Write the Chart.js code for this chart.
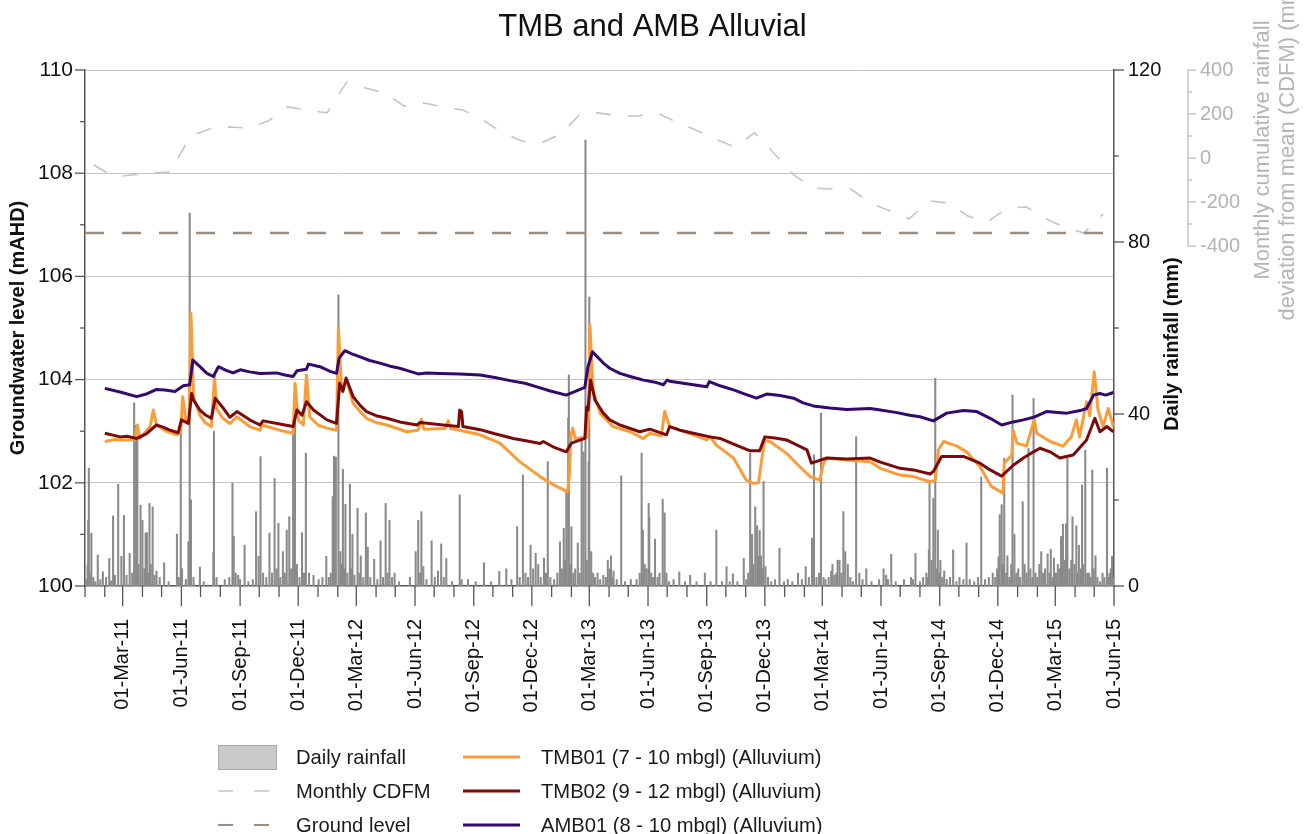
<!DOCTYPE html>
<html>
<head>
<meta charset="utf-8">
<title>TMB and AMB Alluvial</title>
<script src="https://cdn.jsdelivr.net/npm/chart.js@4.4.1/dist/chart.umd.min.js"></script>
<style>
  html, body { margin: 0; padding: 0; background: #fff; }
  #wrap { position: relative; width: 1305px; height: 834px; overflow: hidden;
          font-family: 'Liberation Sans', Arial, sans-serif; }
  #c { position: absolute; left: 0; top: 0; }
  .lg-text { position: absolute; font-size: 20.2px; color: #1a1a1a; line-height: 24px; white-space: nowrap; }
  .lg-sw { position: absolute; }
</style>
</head>
<body>
<div id="wrap">
  <canvas id="c" width="1305" height="834"></canvas>
  <div id="legend"></div>
</div>
<script>
// ---------------------------------------------------------------
// Data (x values are days since 01-Jan-2011)
// ---------------------------------------------------------------
const xTickLabels = ['01-Mar-11','01-Jun-11','01-Sep-11','01-Dec-11','01-Mar-12','01-Jun-12',
  '01-Sep-12','01-Dec-12','01-Mar-13','01-Jun-13','01-Sep-13','01-Dec-13','01-Mar-14',
  '01-Jun-14','01-Sep-14','01-Dec-14','01-Mar-15','01-Jun-15'];

const groundLevel = 106.84; // mAHD

// TMB01 (7 - 10 mbgl) [day, mAHD]
const tmb01 = [[31,102.80],[47,102.84],[65,102.83],[78,102.84],[82,103.12],[86,102.86],[102,103.09],[107,103.41],
  [112,103.12],[127,103.00],[144,102.93],[150,102.99],[153,103.67],[158,103.22],[163,103.14],[166,105.29],[170,103.67],
  [180,103.31],[188,103.17],[198,103.09],[203,104.06],[206,103.44],[216,103.25],[227,103.15],[238,103.28],[258,103.09],
  [274,103.02],[277,103.12],[305,103.02],[326,102.96],[329,103.93],[334,103.22],[342,103.12],[347,104.09],[352,103.28],
  [365,103.12],[379,103.06],[394,103.02],[397,105.00],[402,103.80],[410,103.99],[420,103.54],[431,103.38],[441,103.25],
  [456,103.17],[473,103.12],[504,102.99],[522,103.02],[527,103.23],[531,103.04],[564,103.05],[569,103.20],[573,103.05],
  [587,103.02],[619,102.93],[650,102.77],[681,102.41],[713,102.12],[734,101.96],[756,101.83],[759,102.18],[761,102.89],
  [764,103.06],[768,102.86],[786,102.88],[789,103.30],[791,105.06],[796,103.80],[807,103.35],[827,103.09],[854,102.99],
  [874,102.86],[885,102.96],[903,102.91],[908,103.38],[916,103.09],[953,102.93],[974,102.83],[979,102.90],[989,102.73],
  [1016,102.48],[1036,102.05],[1047,101.99],[1055,102.00],[1060,102.44],[1065,102.83],[1073,102.80],[1099,102.57],
  [1120,102.31],[1136,102.12],[1151,102.05],[1157,102.38],[1162,102.48],[1193,102.44],[1230,102.41],[1246,102.28],
  [1277,102.15],[1298,102.12],[1324,102.02],[1332,102.05],[1337,102.64],[1345,102.80],[1366,102.71],[1381,102.60],
  [1402,102.31],[1420,101.93],[1438,101.80],[1440,102.38],[1452,102.54],[1454,103.02],[1460,102.77],[1475,102.71],
  [1487,103.22],[1491,102.96],[1512,102.80],[1532,102.71],[1545,102.89],[1553,103.22],[1558,102.89],[1569,103.57],
  [1574,103.30],[1581,104.15],[1587,103.41],[1595,103.09],[1603,103.44],[1611,103.09]];

// TMB02 (9 - 12 mbgl) [day, mAHD]
const tmb02 = [[31,102.96],[55,102.89],[67,102.90],[81,102.86],[96,102.95],[112,103.12],[122,103.08],[133,103.02],
  [146,102.97],[151,103.22],[162,103.15],[167,103.73],[170,103.60],[180,103.41],[188,103.32],[198,103.25],[204,103.64],
  [217,103.44],[227,103.27],[238,103.38],[258,103.22],[274,103.12],[279,103.20],[305,103.14],[326,103.09],[332,103.41],
  [340,103.31],[347,103.57],[358,103.41],[379,103.22],[394,103.15],[399,103.93],[404,103.77],[409,104.03],[420,103.67],
  [431,103.50],[441,103.38],[456,103.30],[473,103.25],[493,103.18],[520,103.12],[525,103.17],[561,103.12],[585,103.09],
  [587,103.41],[590,103.38],[592,103.09],[619,103.03],[642,102.95],[671,102.86],[697,102.80],[713,102.76],[718,102.80],
  [736,102.68],[754,102.60],[762,102.77],[783,102.86],[786,103.47],[788,103.41],[792,103.99],[799,103.60],[812,103.35],
  [822,103.22],[838,103.12],[869,102.99],[885,103.04],[911,102.93],[916,103.09],[932,103.02],[953,102.96],[979,102.89],
  [995,102.86],[1018,102.74],[1042,102.62],[1057,102.62],[1065,102.89],[1081,102.87],[1099,102.83],[1131,102.64],
  [1138,102.38],[1162,102.48],[1193,102.46],[1230,102.48],[1246,102.40],[1277,102.28],[1298,102.25],[1324,102.17],
  [1329,102.22],[1342,102.51],[1376,102.51],[1402,102.38],[1418,102.25],[1436,102.13],[1454,102.34],[1470,102.48],
  [1486,102.60],[1496,102.67],[1512,102.60],[1527,102.48],[1548,102.54],[1569,102.83],[1582,103.25],[1590,102.99],
  [1601,103.09],[1611,102.99]];

// AMB01 (8 - 10 mbgl) [day, mAHD]
const amb01 = [[31,103.83],[55,103.76],[81,103.67],[96,103.72],[112,103.81],[125,103.80],[141,103.77],[154,103.88],
  [164,103.90],[169,104.38],[180,104.25],[191,104.12],[201,104.06],[209,104.25],[221,104.18],[232,104.13],[243,104.19],
  [258,104.15],[274,104.12],[300,104.13],[313,104.09],[326,104.06],[332,104.17],[347,104.20],[350,104.30],[368,104.25],
  [384,104.16],[394,104.12],[398,104.41],[407,104.56],[418,104.50],[431,104.44],[446,104.37],[462,104.32],[478,104.26],
  [493,104.22],[509,104.16],[522,104.11],[535,104.13],[556,104.12],[587,104.11],[619,104.09],[642,104.04],[666,103.98],
  [689,103.93],[708,103.86],[729,103.78],[754,103.70],[768,103.77],[783,103.85],[788,104.25],[795,104.54],[802,104.45],
  [812,104.32],[822,104.22],[838,104.12],[854,104.06],[875,103.99],[893,103.95],[906,103.90],[912,103.99],[916,103.97],
  [932,103.94],[953,103.90],[974,103.86],[978,103.96],[995,103.88],[1016,103.80],[1034,103.72],[1052,103.64],[1068,103.72],
  [1089,103.69],[1110,103.64],[1125,103.55],[1141,103.49],[1167,103.45],[1193,103.42],[1230,103.44],[1246,103.41],
  [1272,103.36],[1292,103.31],[1308,103.28],[1329,103.20],[1350,103.35],[1376,103.40],[1397,103.38],[1418,103.25],
  [1436,103.12],[1454,103.18],[1470,103.22],[1486,103.27],[1506,103.38],[1538,103.35],[1559,103.40],[1569,103.44],
  [1580,103.70],[1590,103.73],[1599,103.70],[1611,103.75]];

// Monthly cumulative deviation from mean (mm), Jan-2011 .. May-2015, plotted mid-month
const cdfmStart = [2011, 0];
const cdfmValues = [-32,-86,-77,-68,-64,100,132,141,136,168,232,218,
  205,345,318,295,236,250,232,218,173,118,77,68,
  109,200,205,191,191,205,164,127,86,50,114,23,
  -77,-136,-141,-141,-205,-241,-277,-195,-205,-264,-291,-227,
  -223,-277,-314,-341,-255];

// Daily rainfall [day, mm]
const dailyRain = [[2,1.5],[4,4.9],[5,15.3],[6,27.4],[8,3],[10,12.3],[13,2],[16,1],[20,7.2],[24,1.5],[28,3.3],[33,2],
  [38,6.4],[41,1.2],[44,16.3],[47,2.5],[52,23.7],[57,6.9],[61,16.4],[65,2.5],[70,7.6],[74,3],[77,42.6],[80,37.4],[82,34],
  [84,5],[87,18.8],[90,15.3],[93,4],[95,12.3],[97,12.4],[99,3],[101,19.2],[103,5],[106,18.4],[109,2.5],[112,3.5],[117,2],
  [124,5.4],[131,1],[144,12.1],[147,2],[150,36.3],[152,4],[158,1.5],[162,10.3],[164,86.7],[166,20],[170,2],[180,4.4],
  [186,1],[201,7.8],[202,36],[206,2],[219,1.5],[226,2],[231,23.9],[233,11.5],[236,3],[240,2.5],[243,1.5],[250,9.5],
  [256,1],[263,1.5],[268,17.3],[272,6.9],[275,30.1],[279,3],[284,2],[289,12.3],[293,3],[297,25.0],[300,4],[303,14.6],
  [306,2],[310,8],[313,3],[316,13.0],[320,16.1],[323,4],[326,36.3],[329,46.7],[332,5],[336,2],[340,12.4],[343,3],
  [346,30.9],[351,3],[358,2.5],[366,1.5],[372,2],[378,6.9],[382,2],[385,3],[388,20.8],[390,30.2],[393,30],[397,67.7],
  [400,8],[402,5],[404,27.1],[406,4],[408,19],[411,3],[415,23.7],[417,4],[419,12],[422,2.5],[427,18.1],[430,3],[432,7],
  [436,2],[440,17],[443,9],[447,2],[453,6.2],[458,1.5],[463,10.5],[467,2],[471,19.2],[474,3],[477,15.3],[481,2],[485,3],
  [492,1],[509,2],[518,8],[522,15.3],[525,3],[527,17.3],[530,4.5],[535,1.5],[543,10.5],[548,2],[553,3.5],[558,9.8],
  [562,2],[566,6.4],[575,1],[587,21.2],[590,1.5],[600,1.5],[612,1],[625,5.4],[636,1],[649,3.4],[660,4.0],[668,1.5],
  [677,13.8],[681,2],[686,25.8],[690,3],[694,2],[698,9.5],[702,4],[706,7.6],[710,5],[714,2],[719,6.5],[722,3],[725,28.9],
  [729,2],[735,1.5],[740,3],[744,10.3],[747,4],[750,13.4],[752,6],[754,22.3],[757,39.0],[758,49.1],[760,5],[762,13.8],
  [765,3],[768,4],[772,10],[775,3],[778,34.7],[781,31.2],[784,103.7],[786,6],[789,28.9],[790,67.2],[793,8],[796,3],
  [799,2],[803,3],[807,1.5],[812,2.5],[816,2],[819,6],[822,4],[824,7],[826,2],[828,3.5],[833,1.5],[840,25.6],[846,1],
  [855,1.5],[864,1.5],[869,3],[872,30.9],[874,13],[877,5],[880,4],[883,19.2],[884,16],[887,3],[890,2],[893,10.9],[897,2],
  [900,3],[905,20.2],[908,17],[911,3],[915,1],[922,1.5],[931,3.3],[940,1],[948,2.5],[958,1],[971,3],[980,1],[989,13],
  [998,1],[1005,4.5],[1010,1],[1015,2.8],[1022,1],[1032,6.4],[1036,1.5],[1039,3],[1042,30.9],[1045,12],[1047,5],
  [1050,18.4],[1053,14],[1055,7],[1057,12.9],[1059,7],[1061,4],[1063,24.3],[1066,4.5],[1070,2],[1075,1],[1081,1.5],
  [1088,8.8],[1095,1],[1101,1.5],[1108,1],[1117,3],[1123,1.5],[1129,4.5],[1134,2],[1139,11.1],[1142,30.5],[1146,2],
  [1150,3],[1153,40.2],[1157,2],[1160,1.5],[1165,2],[1169,3.5],[1171,5],[1174,2.5],[1177,3],[1179,6],[1182,6],[1185,3],
  [1188,17.3],[1191,8],[1195,5],[1199,2],[1203,1],[1208,34.7],[1213,3],[1218,1.5],[1224,4],[1232,1],[1244,1.5],[1251,4],
  [1255,2.5],[1258,1.5],[1263,7.4],[1270,1],[1283,1.5],[1294,2],[1297,1.5],[1301,7.6],[1308,1],[1313,2],[1318,3],
  [1320,2],[1322,8.4],[1323,23.9],[1326,6],[1329,20.4],[1332,48.3],[1334,4],[1336,13],[1338,3],[1340,6],[1343,2],
  [1346,3.5],[1350,1.5],[1355,2],[1360,8.4],[1365,1],[1370,2],[1376,1.5],[1381,10],[1386,1.5],[1393,1],[1399,2],
  [1404,25.4],[1410,1.5],[1416,2],[1422,3],[1426,2],[1429,4],[1431,6.8],[1433,16.6],[1436,18.9],[1438,5],[1440,29.7],
  [1443,3],[1445,7],[1448,2],[1451,5],[1453,44.4],[1456,12],[1459,3],[1462,4],[1465,2],[1469,19.6],[1472,5],[1475,3],
  [1478,32],[1481,4],[1484,2],[1486,43.6],[1489,3],[1492,2],[1495,5],[1498,8],[1501,3],[1504,4],[1508,7.5],[1511,3],
  [1513,8.5],[1516,2],[1518,6.5],[1521,3],[1524,5],[1527,4],[1529,11.5],[1532,14.4],[1535,6],[1537,14.5],[1539,29.7],
  [1542,4],[1545,6],[1547,16.1],[1550,5],[1553,14],[1555,3],[1557,9.5],[1560,4],[1562,23.5],[1564,5],[1567,31.6],
  [1570,3],[1573,3],[1575,2],[1578,27],[1580,4],[1583,7],[1586,2],[1590,1],[1594,3],[1597,2],[1601,27.4],[1603,2],
  [1605,3],[1607,4],[1609,6.9],[1611,2]];

// ---------------------------------------------------------------
// Date helpers
// ---------------------------------------------------------------
const T0 = Date.UTC(2011, 0, 1);
const MS_DAY = 86400000;
const MONTHS = ['Jan','Feb','Mar','Apr','May','Jun','Jul','Aug','Sep','Oct','Nov','Dec'];
const dayOfLabel = (s) => {
  const [d, m, y] = s.split('-');
  return Math.round((Date.UTC(2000 + Number(y), MONTHS.indexOf(m), Number(d)) - T0) / MS_DAY);
};
const X_MAX = dayOfLabel('01-Jun-15');
const labelByDay = new Map(xTickLabels.map(l => [dayOfLabel(l), l]));
const monthTicks = [];
for (let i = 0; ; i++) {
  const d = Math.round((Date.UTC(2011, i, 1) - T0) / MS_DAY);
  if (d > X_MAX) break;
  monthTicks.push(d);
}
const cdfmPoints = cdfmValues.map((v, i) => ({
  x: Math.round((Date.UTC(cdfmStart[0], cdfmStart[1] + i, 15) - T0) / MS_DAY), y: v
}));
const toXY = (arr) => arr.map(([x, y]) => ({ x, y }));

// The CDFM axis shows -400..400 in the upper part of the plot
const CDFM_TOP = 400, CDFM_BOTTOM = -400, CDFM_FRACTION = 176 / 516;
const CDFM_MIN = CDFM_TOP - (CDFM_TOP - CDFM_BOTTOM) / CDFM_FRACTION;
const cdfmTicks = [-400,-300,-200,-100,0,100,200,300,400];

const COLORS = {
  tmb01: '#FA9D38', tmb02: '#7D0A0A', amb01: '#34086D',
  ground: '#A08C78', cdfm: '#C4C4C4', rain: '#8A8A8A', axis: '#555555', cdfmAxis: '#BDBDBD'
};
const FONT = "'Liberation Sans', Arial, sans-serif";
Chart.defaults.font.family = FONT;
Chart.defaults.color = '#111';

// ---------------------------------------------------------------
// Tick marks (major/minor lengths), CDFM axis line and right-hand titles
// ---------------------------------------------------------------
const axisDecor = {
  id: 'axisDecor',
  afterDraw(chart) {
    const { ctx, chartArea: a, scales } = chart;
    const { x, y, yR, yC } = scales;
    const seg = (x1, y1, x2, y2) => { ctx.beginPath(); ctx.moveTo(x1, y1); ctx.lineTo(x2, y2); ctx.stroke(); };
    ctx.save();
    ctx.strokeStyle = COLORS.axis;
    ctx.lineWidth = 1.3;
    x.ticks.forEach(t => {
      const px = x.getPixelForValue(t.value);
      seg(px, a.bottom, px, a.bottom + (labelByDay.has(t.value) ? 20 : 11));
    });
    y.ticks.forEach(t => {
      const py = y.getPixelForValue(t.value);
      seg(a.left, py, a.left - (t.value % 2 === 0 ? 10 : 5), py);
    });
    yR.ticks.forEach(t => {
      const py = yR.getPixelForValue(t.value);
      seg(a.right, py, a.right + (t.value % 40 === 0 ? 10 : 5), py);
    });
    // CDFM axis
    ctx.strokeStyle = COLORS.cdfmAxis;
    ctx.lineWidth = 1.3;
    const cx = yC.left;
    seg(cx, yC.getPixelForValue(CDFM_TOP), cx, yC.getPixelForValue(CDFM_BOTTOM));
    yC.ticks.forEach(t => {
      const py = yC.getPixelForValue(t.value);
      seg(cx, py, cx + (t.value % 200 === 0 ? 8 : 4), py);
    });
    // Right-hand axis titles, reading bottom to top
    ctx.textAlign = 'center';
    ctx.textBaseline = 'middle';
    ctx.translate(yR.left + 58, (a.top + a.bottom) / 2 + 16);
    ctx.rotate(-Math.PI / 2);
    ctx.fillStyle = '#111';
    ctx.font = 'bold 20px ' + FONT;
    ctx.fillText('Daily rainfall (mm)', 0, 0);
    ctx.setTransform(1, 0, 0, 1, 0, 0);
    ctx.translate(yC.left + 75, 150);
    ctx.rotate(-Math.PI / 2);
    ctx.fillStyle = '#B5B5B5';
    ctx.font = '22px ' + FONT;
    ctx.fillText('Monthly cumulative rainfall', 0, 0);
    ctx.fillText('deviation from mean (CDFM) (mm)', 0, 25);
    ctx.restore();
  }
};

const ctx = document.getElementById('c').getContext('2d');
const chart = new Chart(ctx, {
  type: 'line',
  data: {
    datasets: [
      { label: 'AMB01 (8 - 10 mbgl) (Alluvium)', data: toXY(amb01), yAxisID: 'y', order: 1,
        borderColor: COLORS.amb01, borderWidth: 3, pointRadius: 0, borderJoinStyle: 'round', tension: 0 },
      { label: 'TMB02 (9 - 12 mbgl) (Alluvium)', data: toXY(tmb02), yAxisID: 'y', order: 2,
        borderColor: COLORS.tmb02, borderWidth: 3, pointRadius: 0, borderJoinStyle: 'round', tension: 0 },
      { label: 'TMB01 (7 - 10 mbgl) (Alluvium)', data: toXY(tmb01), yAxisID: 'y', order: 3,
        borderColor: COLORS.tmb01, borderWidth: 3, pointRadius: 0, borderJoinStyle: 'round', tension: 0 },
      { label: 'Ground level', data: [{ x: 0, y: groundLevel }, { x: X_MAX, y: groundLevel }], yAxisID: 'y', order: 5,
        borderColor: COLORS.ground, borderWidth: 2.5, borderDash: [19, 18], pointRadius: 0 },
      { label: 'Monthly CDFM', data: cdfmPoints, yAxisID: 'yC', order: 6,
        borderColor: COLORS.cdfm, borderWidth: 1.6, borderDash: [15, 17], pointRadius: 0, tension: 0 },
      { type: 'bar', label: 'Daily rainfall', data: toXY(dailyRain), yAxisID: 'yR', order: 10,
        backgroundColor: COLORS.rain, borderWidth: 0, barThickness: 1.4 }
    ]
  },
  options: {
    responsive: false,
    animation: false,
    events: [],
    layout: { padding: { left: 0, right: 0, top: 0, bottom: 113 } },
    plugins: {
      legend: { display: false },
      tooltip: { enabled: false },
      title: { display: true, text: 'TMB and AMB Alluvial', color: '#111',
               font: { size: 31, weight: 'normal' }, padding: { top: 9, bottom: 23.8 } }
    },
    scales: {
      x: {
        type: 'linear', min: 0, max: X_MAX, offset: false,
        grid: { display: false, drawTicks: false, offset: false },
        border: { display: true, color: COLORS.axis, width: 1.5 },
        afterBuildTicks: (s) => { s.ticks = monthTicks.map(v => ({ value: v })); },
        ticks: { autoSkip: false, minRotation: 90, maxRotation: 90, padding: 33,
                 font: { size: 20 }, color: '#111', callback: (v) => labelByDay.get(v) || '' },
        afterFit: (s) => { s.height = 135; }
      },
      y: {
        type: 'linear', position: 'left', min: 100, max: 110,
        ticks: { stepSize: 1, padding: 12, font: { size: 21 }, color: '#111',
                 callback: (v) => (v % 2 === 0 ? String(v) : '') },
        grid: { drawTicks: false, lineWidth: 1,
                color: (c) => (c.tick && c.tick.value % 2 === 0 && c.tick.value > 100) ? '#C6C6C6' : 'rgba(0,0,0,0)' },
        border: { color: COLORS.axis, width: 1.5 },
        title: { display: true, text: 'Groundwater level (mAHD)', color: '#111',
                 font: { size: 20, weight: 'bold' }, padding: { top: 6, bottom: 0 } },
        afterFit: (s) => { s.width = 85; }
      },
      yR: {
        type: 'linear', position: 'right', weight: 0, min: 0, max: 120,
        ticks: { stepSize: 20, padding: 14, font: { size: 20 }, color: '#111',
                 callback: (v) => (v % 40 === 0 ? String(v) : '') },
        grid: { display: false, drawTicks: false },
        border: { color: COLORS.axis, width: 1.5 },
        afterFit: (s) => { s.width = 74; }
      },
      yC: {
        type: 'linear', position: 'right', weight: 1, min: CDFM_MIN, max: CDFM_TOP,
        afterBuildTicks: (s) => { s.ticks = cdfmTicks.map(v => ({ value: v })); },
        ticks: { padding: 12, font: { size: 20 }, color: '#B3B3B3',
                 callback: (v) => (v % 200 === 0 ? String(v) : '') },
        grid: { display: false, drawTicks: false },
        border: { display: false },
        afterFit: (s) => { s.width = 117; }
      }
    }
  },
  plugins: [axisDecor]
});

// ---------------------------------------------------------------
// Legend (two columns under the plot)
// ---------------------------------------------------------------
const legendLeft = [
  { label: 'Daily rainfall', kind: 'box', color: '#C9C9C9', edge: '#A9A9A9' },
  { label: 'Monthly CDFM', kind: 'dash', color: COLORS.cdfm, width: 1.6 },
  { label: 'Ground level', kind: 'dash', color: COLORS.ground, width: 2 }
];
const legendRight = [
  { label: 'TMB01 (7 - 10 mbgl) (Alluvium)', kind: 'line', color: COLORS.tmb01 },
  { label: 'TMB02 (9 - 12 mbgl) (Alluvium)', kind: 'line', color: COLORS.tmb02 },
  { label: 'AMB01 (8 - 10 mbgl) (Alluvium)', kind: 'line', color: COLORS.amb01 }
];
const rowY = [757, 791, 825];
const legendEl = document.getElementById('legend');
function addItem(item, row, swX, textX) {
  const cy = rowY[row];
  let svg;
  if (item.kind === 'box') {
    svg = `<svg class="lg-sw" style="left:${swX}px;top:${cy - 12}px" width="59" height="25">
      <rect x="0.5" y="0.5" width="58" height="24" fill="${item.color}" stroke="${item.edge}" stroke-width="1"/></svg>`;
  } else if (item.kind === 'dash') {
    svg = `<svg class="lg-sw" style="left:${swX}px;top:${cy - 5}px" width="59" height="10">
      <line x1="0" y1="5" x2="58" y2="5" stroke="${item.color}" stroke-width="${item.width}" stroke-dasharray="15 21"/></svg>`;
  } else {
    svg = `<svg class="lg-sw" style="left:${swX}px;top:${cy - 5}px" width="58" height="10">
      <line x1="0" y1="5" x2="57" y2="5" stroke="${item.color}" stroke-width="3"/></svg>`;
  }
  legendEl.insertAdjacentHTML('beforeend', svg +
    `<div class="lg-text" style="left:${textX}px;top:${cy - 12}px">${item.label}</div>`);
}
legendLeft.forEach((it, i) => addItem(it, i, 218, 296));
legendRight.forEach((it, i) => addItem(it, i, 463, 541));
</script>
</body>
</html>
